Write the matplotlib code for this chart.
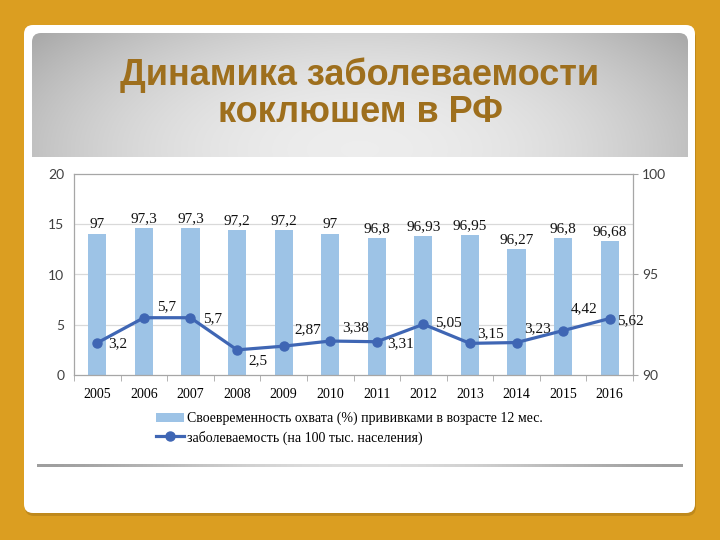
import numpy as np
import matplotlib
matplotlib.use('Agg')
import matplotlib.pyplot as plt
from matplotlib.patches import FancyBboxPatch
from matplotlib.ticker import FixedLocator

# ---------------- data ----------------
years = ['2005', '2006', '2007', '2008', '2009', '2010',
         '2011', '2012', '2013', '2014', '2015', '2016']
coverage = [97, 97.3, 97.3, 97.2, 97.2, 97, 96.8, 96.93, 96.95, 96.27, 96.8, 96.68]
incidence = [3.2, 5.7, 5.7, 2.5, 2.87, 3.38, 3.31, 5.05, 3.15, 3.23, 4.42, 5.62]
left_ticks = [0, 5, 10, 15, 20]
right_ticks = [90, 95, 100]
title_lines = ['Динамика заболеваемости', 'коклюшем в РФ']
legend_labels = ['Своевременность охвата (%) прививками в возрасте 12 мес.',
                 'заболеваемость (на 100 тыс. населения)']

# label offsets (pixels) for the line value labels -- styling only
line_label_offsets = [(20, -1), (23, 11), (22, -1), (21, -11), (24, 16), (25, 13),
                      (24, -2), (25, 2), (21, 10), (21, 14), (21, 22), (21, -2)]


def fmt(v):
    return f"{v:g}".replace('.', ',')


W, H = 720, 540
GOLD = '#DB9E21'
TITLE_C = '#9E6F1D'
BAR_C = '#9DC3E6'
LINE_C = '#3F66B4'
SERIF = 'Liberation Serif'

fig = plt.figure(figsize=(W / 100, H / 100), dpi=100)
fig.patch.set_facecolor(GOLD)

bg = fig.add_axes([0, 0, 1, 1])
bg.set_xlim(0, W)
bg.set_ylim(H, 0)
bg.axis('off')

# card shadow + card
bg.add_patch(FancyBboxPatch((25, 29), 671, 487, boxstyle='round,pad=0,rounding_size=9',
                            fc='#A97818', ec='none', alpha=0.55, zorder=1))
bg.add_patch(FancyBboxPatch((24, 25), 671, 488, boxstyle='round,pad=0,rounding_size=9',
                            fc='white', ec='none', zorder=2))

# header with gradient
hx0, hx1, hy0, hy1 = 32, 688, 33, 157
xs = np.linspace(hx0, hx1, 400)
ys = np.linspace(hy0, hy1, 120)
XX, YY = np.meshgrid(xs, ys)
t2 = ((XX - 360) / 380) ** 2 + ((YY - 150) / 175) ** 2
g = np.clip(0.93 - 0.23 * t2, 0, 1)
img = np.dstack([g, g, g])
clip = FancyBboxPatch((hx0, hy0), hx1 - hx0, hy1 - hy0 + 20,
                      boxstyle='round,pad=0,rounding_size=9', fc='none', ec='none',
                      transform=bg.transData)
bg.add_patch(clip)
im = bg.imshow(img, extent=(hx0, hx1, hy1, hy0), aspect='auto', zorder=3,
               interpolation='bilinear')
im.set_clip_path(clip)

bg.text(360, 75, title_lines[0], ha='center', va='center', fontsize=26,
        fontweight='bold', color=TITLE_C, family='Liberation Sans', zorder=4)
bg.text(360, 113, title_lines[1], ha='center', va='center', fontsize=26,
        fontweight='bold', color=TITLE_C, family='Liberation Sans', zorder=4)

# separator line with gradient
sx = np.linspace(0, 1, 300)
sg = 0.62 + 0.25 * np.sin(np.pi * sx) ** 1.5
simg = np.dstack([sg, sg, sg]).repeat(2, axis=0)
bg.imshow(simg, extent=(37, 683, 467.5, 465), aspect='auto', zorder=4)
bg.set_xlim(0, W)
bg.set_ylim(H, 0)

# ---------------- chart ----------------
ax = fig.add_axes([74 / W, 1 - 375 / H, 559 / W, 201 / H])
ax.set_zorder(2)
ax.patch.set_alpha(0)
x = np.arange(len(years))

for t in left_ticks[1:-1]:
    ax.axhline(right_ticks[0] + t * (right_ticks[-1] - right_ticks[0]) / left_ticks[-1],
               color='#D9D9D9', lw=0.9, zorder=0.5)

bars = ax.bar(x, coverage, width=0.39, color=BAR_C, zorder=2)
ax.set_ylim(right_ticks[0], right_ticks[-1])
ax.set_xlim(-0.5, len(years) - 0.5)

ax.set_xticks(x)
ax.set_xticklabels(years, family=SERIF, fontsize=10)
ax.tick_params(axis='x', which='major', length=0, pad=9)
ax.xaxis.set_minor_locator(FixedLocator(np.arange(-0.5, len(years), 1.0)))
ax.tick_params(axis='x', which='minor', length=4, color='#A6A6A6')

for s in ax.spines.values():
    s.set_color('#A6A6A6')
    s.set_linewidth(0.9)

for xi, v in zip(x, coverage):
    ax.annotate(fmt(v), (xi, v), xytext=(0, 3), textcoords='offset pixels',
                ha='center', va='bottom', family=SERIF, fontsize=11, color='#111111')

ax2 = ax.twinx()
ax2.set_ylim(left_ticks[0], left_ticks[-1])
ax2.set_yticks(left_ticks)
ax2.yaxis.set_ticks_position('left')
ax2.yaxis.set_label_position('left')
ax2.tick_params(axis='y', length=0, labelsize=10, labelcolor='#404040', pad=7,
                left=True, labelleft=True, right=False, labelright=False)
for lab in ax2.get_yticklabels():
    lab.set_family('Lato')
for s in ax2.spines.values():
    s.set_visible(False)

# right axis (bars) -- set after twinx, which resets tick side
ax.set_yticks(right_ticks)
ax.yaxis.set_ticks_position('right')
ax.tick_params(axis='y', which='major', length=3.5, color='#A6A6A6', labelsize=10,
               labelcolor='#404040', pad=3, left=False, labelleft=False,
               right=True, labelright=True)
for lab in ax.get_yticklabels():
    lab.set_family('Lato')

line, = ax2.plot(x, incidence, color=LINE_C, lw=2.3, marker='o', ms=6.5, zorder=5)
for xi, v, off in zip(x, incidence, line_label_offsets):
    ax2.annotate(fmt(v), (xi, v), xytext=off, textcoords='offset pixels',
                 ha='center', va='center', family=SERIF, fontsize=11, color='#111111')

fig.legend([bars, line], legend_labels, loc='upper left',
           bbox_to_anchor=(156 / W, 1 - 412 / H), frameon=False,
           prop=dict(family=SERIF, size=10), handlelength=2.0, handleheight=0.7,
           handletextpad=0.2, labelspacing=0.35, borderpad=0, borderaxespad=0)

fig.savefig('out.png', dpi=100, facecolor=fig.get_facecolor())
